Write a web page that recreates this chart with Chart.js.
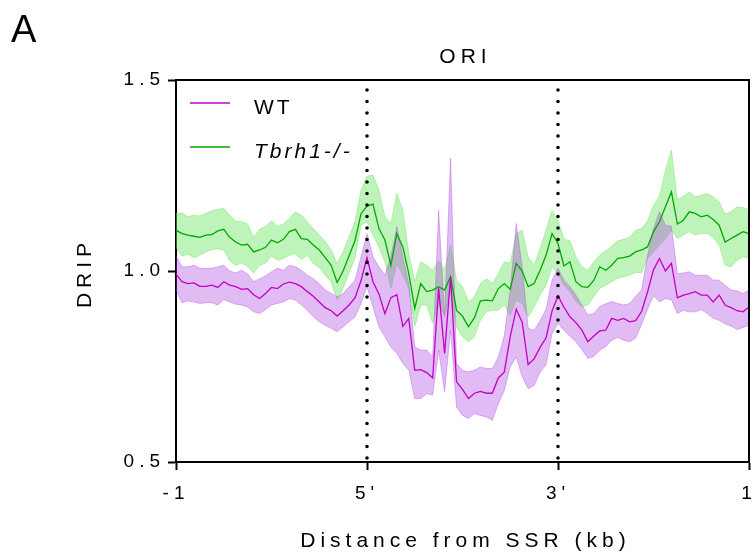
<!DOCTYPE html>
<html>
<head>
<meta charset="utf-8">
<title>DRIP profile around ORI</title>
<script src="https://cdn.jsdelivr.net/npm/chart.js@4.4.1/dist/chart.umd.min.js"></script>
<style>
  html, body { margin: 0; padding: 0; background: #fff; }
  #wrap { width: 756px; height: 557px; }
</style>
</head>
<body>
<div id="wrap"><canvas id="chart-drip" width="756" height="557"></canvas></div>
<script>
// --- DATA: metaplot bins from -1 kb through the scaled ORI (5' -> 3') to +1 kb ---

const xTickBins = [0, 32, 64, 96];
const xTickLabels = ['-1', "5'", "3'", '1'];

// WT: mean DRIP signal and upper / lower edge of the error band
const wtMean = [
    0.992, 0.972, 0.967, 0.969, 0.960, 0.960, 0.963, 0.957, 0.972, 0.963, 0.959, 0.952, 0.954, 0.938, 0.928, 0.941, 0.957,
    0.954, 0.966, 0.971, 0.967, 0.959, 0.946, 0.934, 0.919, 0.904, 0.896, 0.882, 0.896, 0.911, 0.930,
    0.975, 1.035, 0.972, 0.940, 0.888, 0.930, 0.938, 0.855, 0.876, 0.740, 0.742, 0.734, 0.720, 0.955, 0.784, 0.985, 0.710,
    0.690, 0.666, 0.680, 0.685, 0.680, 0.680, 0.720, 0.735, 0.828, 0.900, 0.866, 0.755, 0.770, 0.800, 0.825, 0.895, 0.935,
    0.905, 0.880, 0.865, 0.845, 0.815, 0.830, 0.843, 0.845, 0.876, 0.871, 0.876, 0.867, 0.870, 0.894, 0.945, 1.003,
    1.033, 1.000, 1.020, 0.930, 0.937, 0.941, 0.946, 0.937, 0.937, 0.919, 0.937, 0.911, 0.904, 0.896, 0.893, 0.906
];
const wtHi = [
    1.039, 1.011, 1.011, 1.015, 1.007, 1.007, 1.007, 1.011, 1.015, 1.000, 0.995, 1.002, 0.992, 0.972, 0.980, 0.987, 0.998,
    1.007, 1.002, 1.015, 1.011, 1.002, 0.989, 0.980, 0.967, 0.950, 0.941, 0.932, 0.941, 0.959, 0.976,
    1.037, 1.098, 1.037, 1.011, 0.989, 1.037, 1.116, 1.037, 0.967, 0.801, 0.793, 0.793, 0.775, 1.159, 0.880, 1.295, 0.758,
    0.740, 0.736, 0.740, 0.749, 0.745, 0.745, 0.775, 0.830, 0.950, 1.124, 1.011, 0.850, 0.845, 0.870, 0.900, 0.976, 1.007,
    0.976, 0.959, 0.937, 0.911, 0.885, 0.889, 0.907, 0.914, 0.920, 0.915, 0.911, 0.915, 0.933, 0.950, 1.040, 1.110,
    1.155, 1.120, 1.117, 0.993, 0.995, 0.998, 0.989, 0.989, 0.989, 0.976, 0.976, 0.963, 0.950, 0.948, 0.941, 0.950
];
const wtLo = [
    0.950, 0.917, 0.922, 0.919, 0.915, 0.917, 0.917, 0.911, 0.925, 0.919, 0.913, 0.911, 0.906, 0.893, 0.889, 0.899, 0.911,
    0.915, 0.919, 0.928, 0.924, 0.911, 0.897, 0.880, 0.867, 0.858, 0.850, 0.841, 0.854, 0.867, 0.880,
    0.915, 0.959, 0.906, 0.854, 0.828, 0.801, 0.784, 0.758, 0.740, 0.666, 0.666, 0.679, 0.675, 0.793, 0.684, 0.845, 0.644,
    0.622, 0.614, 0.627, 0.622, 0.618, 0.609, 0.653, 0.688, 0.749, 0.775, 0.723, 0.692, 0.701, 0.735, 0.755, 0.836, 0.863,
    0.845, 0.830, 0.815, 0.795, 0.771, 0.776, 0.793, 0.802, 0.819, 0.826, 0.819, 0.815, 0.824, 0.860, 0.900, 0.935,
    0.919, 0.928, 0.925, 0.889, 0.897, 0.893, 0.893, 0.899, 0.889, 0.876, 0.871, 0.861, 0.856, 0.847, 0.852, 0.858
];

// Tbrh1-/-: mean DRIP signal and band edges
const koMean = [
    1.107, 1.098, 1.094, 1.091, 1.088, 1.094, 1.095, 1.105, 1.109, 1.088, 1.076, 1.068, 1.070, 1.050, 1.055, 1.062, 1.081,
    1.074, 1.083, 1.103, 1.109, 1.085, 1.083, 1.068, 1.055, 1.035, 1.015, 0.970, 1.000, 1.040, 1.080,
    1.150, 1.170, 1.175, 1.111, 1.081, 1.015, 1.098, 1.063, 0.993, 0.902, 0.967, 0.946, 0.950, 0.959, 0.950, 0.985, 0.897,
    0.882, 0.854, 0.878, 0.922, 0.924, 0.922, 0.954, 0.967, 0.952, 1.020, 1.000, 0.959, 0.967, 1.002, 1.041, 1.098, 1.072,
    1.013, 1.024, 0.972, 0.959, 0.957, 0.976, 1.011, 1.002, 1.015, 1.033, 1.035, 1.039, 1.050, 1.055, 1.063, 1.103,
    1.129, 1.168, 1.207, 1.123, 1.133, 1.155, 1.151, 1.142, 1.146, 1.135, 1.120, 1.076, 1.085, 1.094, 1.103, 1.098
];
const koHi = [
    1.151, 1.152, 1.142, 1.146, 1.144, 1.151, 1.158, 1.161, 1.164, 1.146, 1.131, 1.129, 1.123, 1.088, 1.109, 1.117, 1.131,
    1.117, 1.123, 1.138, 1.155, 1.146, 1.129, 1.111, 1.094, 1.077, 1.055, 1.020, 1.050, 1.090, 1.130,
    1.212, 1.248, 1.251, 1.212, 1.142, 1.124, 1.203, 1.159, 1.046, 0.972, 1.024, 1.015, 1.002, 1.028, 1.002, 1.068, 0.976,
    0.959, 0.919, 0.932, 0.967, 0.980, 0.967, 0.993, 1.024, 1.020, 1.098, 1.107, 1.037, 1.015, 1.059, 1.107, 1.159, 1.133,
    1.083, 1.079, 1.037, 1.011, 1.002, 1.024, 1.041, 1.053, 1.065, 1.079, 1.083, 1.088, 1.107, 1.111, 1.131, 1.172,
    1.196, 1.264, 1.316, 1.186, 1.196, 1.207, 1.194, 1.198, 1.203, 1.194, 1.181, 1.149, 1.155, 1.168, 1.166, 1.159
];
const koLo = [
    1.062, 1.039, 1.044, 1.035, 1.041, 1.050, 1.056, 1.058, 1.055, 1.027, 1.015, 1.021, 1.011, 0.995, 1.015, 1.021, 1.039,
    1.028, 1.033, 1.041, 1.046, 1.030, 1.041, 1.020, 1.009, 0.989, 0.972, 0.925, 0.955, 0.995, 1.035,
    1.120, 1.129, 1.094, 1.063, 1.024, 0.954, 1.020, 0.989, 0.954, 0.854, 0.911, 0.911, 0.863, 0.915, 0.884, 0.946, 0.854,
    0.828, 0.815, 0.828, 0.871, 0.893, 0.897, 0.897, 0.911, 0.884, 0.924, 0.915, 0.880, 0.906, 0.937, 0.963, 1.011, 0.993,
    0.963, 0.946, 0.920, 0.907, 0.911, 0.933, 0.955, 0.963, 0.972, 0.981, 0.985, 0.989, 0.996, 0.996, 1.033, 1.050,
    1.068, 1.085, 1.107, 1.085, 1.094, 1.103, 1.094, 1.098, 1.098, 1.088, 1.068, 1.015, 1.011, 1.028, 1.037, 1.033
];

// --- STYLE ---

const FONT = "'Liberation Sans', Arial, sans-serif";
const WT_LINE = '#c400c4';
const WT_BAND = 'rgba(170, 60, 220, 0.35)';
const KO_LINE = '#00a800';
const KO_BAND = 'rgba(110, 230, 100, 0.45)';

function toPoints(values) {
    // bin index on x, signal on y
    return values.map((v, i) => ({ x: i, y: v }));
}

function bandEdge(label, values, color, fill) {
    return {
        label: label,
        data: toPoints(values),
        borderColor: color,
        backgroundColor: color,
        borderWidth: 1,
        pointRadius: 0,
        fill: fill
    };
}

// Box, ORI dotted guides, titles, legend and panel letter
const figureDecor = {
    id: 'figureDecor',
    beforeDraw(chart) {
        chart.ctx.letterSpacing = '5px';
    },
    afterDatasetsDraw(chart) {
        const { ctx, chartArea: a, scales } = chart;
        ctx.save();
        ctx.strokeStyle = '#000';
        ctx.lineWidth = 3.6;
        ctx.lineCap = 'round';
        ctx.setLineDash([0, 11.5]);
        [xTickBins[1], xTickBins[2]].forEach(bin => {
            const x = Math.round(scales.x.getPixelForValue(bin));
            ctx.beginPath();
            ctx.moveTo(x, a.bottom - 4);
            ctx.lineTo(x, a.top + 9);
            ctx.stroke();
        });
        ctx.restore();
    },
    afterDraw(chart) {
        const { ctx, chartArea: a } = chart;
        const midX = (a.left + a.right) / 2;
        ctx.save();

        // top and right edges of the frame
        ctx.strokeStyle = '#000';
        ctx.lineWidth = 2;
        ctx.beginPath();
        ctx.moveTo(a.left, a.top);
        ctx.lineTo(a.right, a.top);
        ctx.lineTo(a.right, a.bottom);
        ctx.stroke();

        ctx.fillStyle = '#000';
        ctx.letterSpacing = '5px';
        ctx.font = '21px ' + FONT;
        ctx.textAlign = 'center';
        ctx.textBaseline = 'middle';
        ctx.fillText('ORI', midX + 3, 57);
        ctx.fillText('Distance from SSR (kb)', midX + 3, 541);

        ctx.save();
        ctx.translate(85, (a.top + a.bottom) / 2 + 2);
        ctx.rotate(-Math.PI / 2);
        ctx.fillText('DRIP', 0, 0);
        ctx.restore();

        // legend
        const rows = [
            { ds: chart.data.datasets[0], italic: false, y: a.top + 23 },
            { ds: chart.data.datasets[1], italic: true, y: a.top + 67 }
        ];
        ctx.letterSpacing = '3px';
        ctx.textAlign = 'left';
        ctx.textBaseline = 'alphabetic';
        rows.forEach(r => {
            ctx.strokeStyle = r.ds.borderColor;
            ctx.lineWidth = 1.3;
            ctx.beginPath();
            ctx.moveTo(a.left + 14, r.y);
            ctx.lineTo(a.left + 54, r.y);
            ctx.stroke();
            ctx.font = (r.italic ? 'italic ' : '') + '21px ' + FONT;
            ctx.fillText(r.ds.label, a.left + 78, r.y + 11);
        });

        // panel letter
        ctx.letterSpacing = '0px';
        ctx.font = '38px ' + FONT;
        ctx.fillText('A', 11, 42);
        ctx.restore();
    }
};

// --- CHART ---

function renderDripChart() {
    const ctx = document.getElementById('chart-drip');

    return new Chart(ctx, {
        type: 'line',
        data: {
            datasets: [
                { label: 'WT', data: toPoints(wtMean), borderColor: WT_LINE, borderWidth: 1.3, pointRadius: 0, fill: false },
                { label: 'Tbrh1-/-', data: toPoints(koMean), borderColor: KO_LINE, borderWidth: 1.3, pointRadius: 0, fill: false },
                bandEdge('WT upper', wtHi, WT_BAND, '+1'),
                bandEdge('WT lower', wtLo, WT_BAND, false),
                bandEdge('Tbrh1-/- upper', koHi, KO_BAND, '+1'),
                bandEdge('Tbrh1-/- lower', koLo, KO_BAND, false)
            ]
        },
        options: {
            responsive: false,
            animation: false,
            devicePixelRatio: 1,
            layout: { padding: { top: 80, right: 7, left: 0, bottom: 0 } },
            elements: { line: { tension: 0 } },
            plugins: { legend: { display: false }, tooltip: { enabled: false } },
            scales: {
                x: {
                    type: 'linear',
                    min: xTickBins[0],
                    max: xTickBins[xTickBins.length - 1],
                    afterBuildTicks: scale => { scale.ticks = xTickBins.map(v => ({ value: v })); },
                    afterFit: scale => {
                        // fixed axis band; don't let the end labels push the plot inward
                        scale.height = 95;
                        scale.paddingLeft = 0;
                        scale.paddingRight = 0;
                    },
                    ticks: {
                        autoSkip: false,
                        maxRotation: 0,
                        padding: 12,
                        color: '#000',
                        font: { family: FONT, size: 19 },
                        callback: (value, index) => xTickLabels[index]
                    },
                    grid: { drawOnChartArea: false, tickLength: 8, tickWidth: 2, tickColor: '#000' },
                    border: { color: '#000', width: 2 }
                },
                y: {
                    min: 0.5,
                    max: 1.5,
                    afterFit: scale => {
                        scale.width = 176;
                        scale.paddingTop = 0;
                        scale.paddingBottom = 0;
                    },
                    ticks: {
                        stepSize: 0.5,
                        padding: 3,
                        color: '#000',
                        font: { family: FONT, size: 19 },
                        callback: value => value.toFixed(1)
                    },
                    grid: { drawOnChartArea: false, tickLength: 8, tickWidth: 2, tickColor: '#000' },
                    border: { color: '#000', width: 2 }
                }
            }
        },
        plugins: [figureDecor]
    });
}

renderDripChart();
</script>
</body>
</html>
